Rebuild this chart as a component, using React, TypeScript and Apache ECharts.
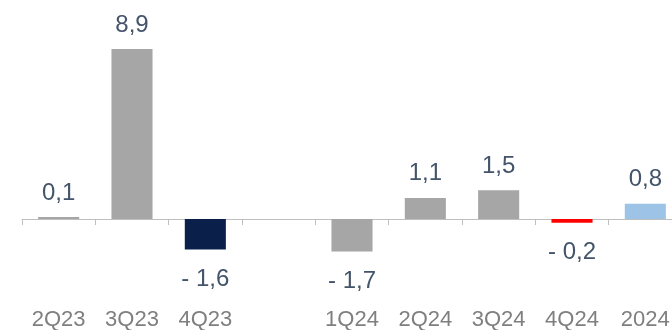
import React, { useEffect, useRef } from "react";
import * as echarts from "echarts";

const categories = ["2Q23", "3Q23", "4Q23", "", "1Q24", "2Q24", "3Q24", "4Q24", "2024"];
const values: (number | null)[] = [0.1, 8.9, -1.6, null, -1.7, 1.1, 1.5, -0.2, 0.8];
const barColors = ["#a6a6a6", "#a6a6a6", "#0b1f4b", "#a6a6a6", "#a6a6a6", "#a6a6a6", "#a6a6a6", "#ff0000", "#9dc3e6"];

const fmt = (v: number) => {
  const s = Math.abs(v).toFixed(1).replace(".", ",");
  return v < 0 ? "- " + s : s;
};

export default function App() {
  const ref = useRef<HTMLDivElement>(null);
  useEffect(() => {
    if (!ref.current) return;
    const chart = echarts.init(ref.current, undefined, { renderer: "svg" });
    chart.setOption({
      animation: false,
      grid: {
        left: 22,
        right: -10,
        top: 28,
        bottom: 53.7,
        containLabel: false,
        outerBoundsMode: "none",
      },
      xAxis: {
        type: "category",
        data: categories,
        axisLine: { onZero: true, lineStyle: { color: "#bfbfbf", width: 1 } },
        axisTick: { show: true, length: 6, lineStyle: { color: "#bfbfbf" } },
        axisLabel: {
          margin: 31,
          fontSize: 22,
          lineHeight: 22,
          fontFamily: "Liberation Sans, Arial, sans-serif",
          color: "#7f7f7f",
          interval: 0,
        },
        splitLine: { show: false },
      },
      yAxis: {
        type: "value",
        min: -3,
        max: 10,
        show: false,
        splitLine: { show: false },
      },
      series: [
        {
          type: "bar",
          barWidth: "56%",
          data: values.map((v, i) => ({
            value: v,
            itemStyle: { color: barColors[i] },
            label: {
              show: v !== null,
              position: v !== null && v < 0 ? "bottom" : "top",
              distance: v !== null && v < 0 ? 16 : 14,
            },
          })),
          label: {
            show: true,
            fontSize: 24,
            fontFamily: "Liberation Sans, Arial, sans-serif",
            color: "#44546a",
            formatter: (p: any) => (p.value == null ? "" : fmt(p.value)),
          },
        },
      ],
    });
    return () => chart.dispose();
  }, []);
  return (
    <div
      ref={ref}
      style={{ position: "fixed", left: 0, top: 0, width: 672, height: 330 }}
    />
  );
}
